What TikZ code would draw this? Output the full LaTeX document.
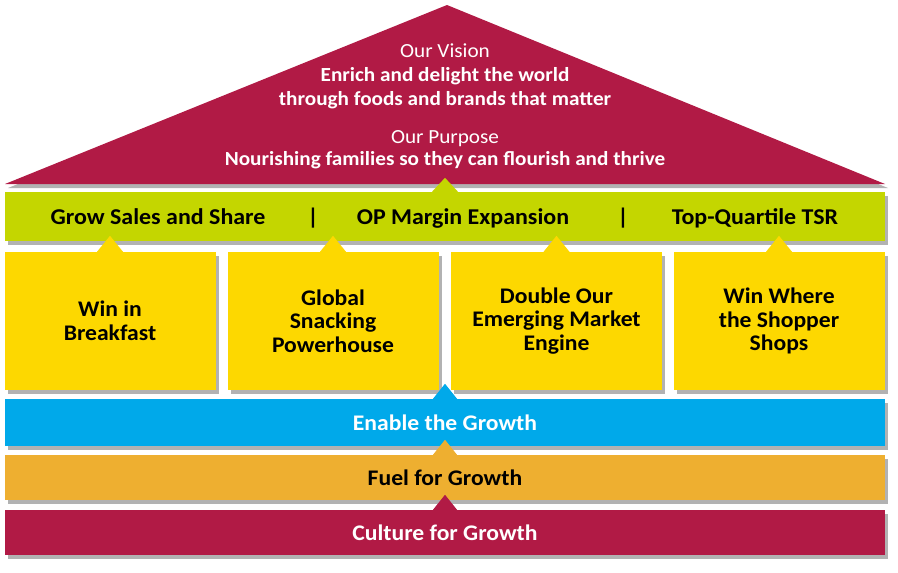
\documentclass[tikz,border=0pt]{standalone}
\usepackage{fontspec}
\setmainfont{Carlito}[FakeStretch=1.06]
\usetikzlibrary{shadows}

\definecolor{roofred}{RGB}{177,26,69}
\definecolor{limegreen}{RGB}{196,214,0}
\definecolor{pillaryellow}{RGB}{253,216,0}
\definecolor{enableblue}{RGB}{0,169,234}
\definecolor{fuelorange}{RGB}{238,175,48}

\begin{document}
\begin{tikzpicture}[
  x=1pt,
  y=-1pt,
  shade/.style={
    drop shadow={shadow xshift=3pt,shadow yshift=-4pt,opacity=0.3,fill=black}
  },
  band/.style={
    rectangle,
    inner sep=0pt,
    minimum width=880pt,
    minimum height=46pt,
    font=\bfseries\fontsize{22.3}{26}\selectfont,
    shade
  },
  pillar/.style={
    rectangle,
    inner sep=0pt,
    minimum width=211pt,
    minimum height=138pt,
    fill=pillaryellow,
    align=center,
    font=\bfseries\fontsize{22.3}{23.5}\selectfont,
    shade
  },
  rooftext/.style={
    text=white,
    align=center,
    inner sep=0pt
  },
  goaltext/.style={
    inner sep=0pt,
    anchor=base,
    font=\bfseries\fontsize{22.6}{26}\selectfont
  }
]
\useasboundingbox (0,0) rectangle (898,573);

% roof
\fill[roofred,shade] (447,5) -- (885,184) -- (5,184) -- cycle;
\node[rooftext,font=\fontsize{20}{24}\selectfont] (vision) at (445,76)
  {Our Vision\\\textbf{Enrich and delight the world}\\\textbf{through foods and brands that matter}};
\node[rooftext,font=\fontsize{20}{22}\selectfont] (purpose) at (445,150)
  {Our Purpose\\\textbf{Nourishing families so they can flourish and thrive}};

% goals
\node[band,fill=limegreen,minimum height=49pt] (goals) at (445,216.5) {};
\fill[limegreen] ([xshift=-13pt]goals.north) -- ([yshift=14pt]goals.north) -- ([xshift=13pt]goals.north) -- cycle;
\node[goaltext] (sales) at (158,224) {Grow Sales and Share};
\node[goaltext] (bar1) at (313,224) {|};
\node[goaltext] (margin) at (463,224) {OP Margin Expansion};
\node[goaltext] (bar2) at (623,224) {|};
\node[goaltext] (tsr) at (755,224) {Top-Quartile TSR};

% pillars
\node[pillar] (breakfast) at (110,321) {Win in\\Breakfast};
\node[pillar] (snacking) at (333,321) {Global\\Snacking\\Powerhouse};
\node[pillar] (emerging) at (556.5,321) {Double Our\\Emerging Market\\Engine};
\node[pillar] (shopper) at (779,321) {Win Where\\the Shopper\\Shops};
\foreach \p in {breakfast,snacking,emerging,shopper}
  \fill[pillaryellow] ([xshift=-13pt]\p.north) -- ([yshift=16pt]\p.north) -- ([xshift=13pt]\p.north) -- cycle;

% foundation
\node[band,fill=enableblue,minimum height=47pt,text=white] (enable) at (445,422.5) {Enable the Growth};
\fill[enableblue] ([xshift=-12pt]enable.north) -- ([yshift=15pt]enable.north) -- ([xshift=12pt]enable.north) -- cycle;
\node[band,fill=fuelorange,minimum height=45pt] (fuel) at (445,477.5) {Fuel for Growth};
\fill[fuelorange] ([xshift=-12pt]fuel.north) -- ([yshift=15pt]fuel.north) -- ([xshift=12pt]fuel.north) -- cycle;
\node[band,fill=roofred,minimum height=45pt,text=white] (culture) at (445,532.5) {Culture for Growth};
\fill[roofred] ([xshift=-12pt]culture.north) -- ([yshift=15pt]culture.north) -- ([xshift=12pt]culture.north) -- cycle;
\end{tikzpicture}
\end{document}
